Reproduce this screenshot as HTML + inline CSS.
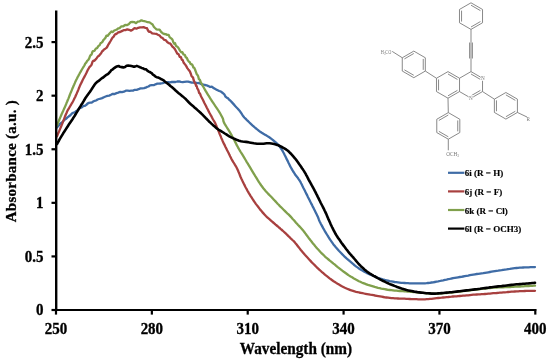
<!DOCTYPE html>
<html><head><meta charset="utf-8"><style>
html,body{margin:0;padding:0;background:#fff;}
body{width:550px;height:362px;overflow:hidden;}
svg{display:block;will-change:transform;}
.ax{font-family:"Liberation Serif",serif;font-weight:bold;font-size:15px;fill:#000;stroke:#000;stroke-width:0.3px;}
.lg{font-family:"Liberation Serif",serif;font-weight:bold;font-size:9px;fill:#000;stroke:#000;stroke-width:0.15px;}
</style></head><body>
<svg width="550" height="362" viewBox="0 0 550 362">
<rect width="550" height="362" fill="#fff"/>
<g stroke="#747474" stroke-width="0.85" fill="none"><line x1="471.00" y1="2.80" x2="482.52" y2="9.45"/><line x1="482.52" y1="9.45" x2="482.52" y2="22.75"/><line x1="482.52" y1="22.75" x2="471.00" y2="29.40"/><line x1="471.00" y1="29.40" x2="459.48" y2="22.75"/><line x1="459.48" y1="22.75" x2="459.48" y2="9.45"/><line x1="459.48" y1="9.45" x2="471.00" y2="2.80"/><line x1="471.00" y1="5.19" x2="480.44" y2="10.65"/><line x1="480.44" y1="21.55" x2="471.00" y2="27.01"/><line x1="461.56" y1="21.55" x2="461.56" y2="10.65"/><line x1="448.00" y1="71.60" x2="459.52" y2="78.25"/><line x1="459.52" y1="78.25" x2="459.52" y2="91.55"/><line x1="459.52" y1="91.55" x2="448.00" y2="98.20"/><line x1="448.00" y1="98.20" x2="436.48" y2="91.55"/><line x1="436.48" y1="91.55" x2="436.48" y2="78.25"/><line x1="436.48" y1="78.25" x2="448.00" y2="71.60"/><line x1="448.00" y1="73.99" x2="457.44" y2="79.45"/><line x1="457.44" y1="90.35" x2="448.00" y2="95.81"/><line x1="438.56" y1="90.35" x2="438.56" y2="79.45"/><line x1="471.00" y1="71.60" x2="482.52" y2="78.25"/><line x1="482.52" y1="78.25" x2="482.52" y2="91.55"/><line x1="482.52" y1="91.55" x2="471.00" y2="98.20"/><line x1="471.00" y1="98.20" x2="459.48" y2="91.55"/><line x1="459.48" y1="78.25" x2="471.00" y2="71.60"/><line x1="471.00" y1="73.99" x2="480.44" y2="79.45"/><line x1="480.44" y1="90.35" x2="471.00" y2="95.81"/><line x1="413.80" y1="51.10" x2="425.32" y2="57.75"/><line x1="425.32" y1="57.75" x2="425.32" y2="71.05"/><line x1="425.32" y1="71.05" x2="413.80" y2="77.70"/><line x1="413.80" y1="77.70" x2="402.28" y2="71.05"/><line x1="402.28" y1="71.05" x2="402.28" y2="57.75"/><line x1="402.28" y1="57.75" x2="413.80" y2="51.10"/><line x1="423.24" y1="58.95" x2="423.24" y2="69.85"/><line x1="413.80" y1="75.31" x2="404.36" y2="69.85"/><line x1="404.36" y1="58.95" x2="413.80" y2="53.49"/><line x1="448.30" y1="112.60" x2="459.82" y2="119.25"/><line x1="459.82" y1="119.25" x2="459.82" y2="132.55"/><line x1="459.82" y1="132.55" x2="448.30" y2="139.20"/><line x1="448.30" y1="139.20" x2="436.78" y2="132.55"/><line x1="436.78" y1="132.55" x2="436.78" y2="119.25"/><line x1="436.78" y1="119.25" x2="448.30" y2="112.60"/><line x1="457.74" y1="120.45" x2="457.74" y2="131.35"/><line x1="448.30" y1="136.81" x2="438.86" y2="131.35"/><line x1="438.86" y1="120.45" x2="448.30" y2="114.99"/><line x1="505.90" y1="92.50" x2="517.42" y2="99.15"/><line x1="517.42" y1="99.15" x2="517.42" y2="112.45"/><line x1="517.42" y1="112.45" x2="505.90" y2="119.10"/><line x1="505.90" y1="119.10" x2="494.38" y2="112.45"/><line x1="494.38" y1="112.45" x2="494.38" y2="99.15"/><line x1="494.38" y1="99.15" x2="505.90" y2="92.50"/><line x1="505.90" y1="94.89" x2="515.34" y2="100.35"/><line x1="515.34" y1="111.25" x2="505.90" y2="116.71"/><line x1="496.46" y1="111.25" x2="496.46" y2="100.35"/><line x1="471.00" y1="29.40" x2="471.00" y2="42.50"/><line x1="469.60" y1="42.50" x2="469.60" y2="58.50"/><line x1="471.00" y1="42.50" x2="471.00" y2="58.50"/><line x1="472.40" y1="42.50" x2="472.40" y2="58.50"/><line x1="471.00" y1="58.50" x2="471.00" y2="71.60"/><line x1="425.32" y1="71.05" x2="436.48" y2="78.25"/><line x1="402.28" y1="57.75" x2="392.20" y2="51.40"/><line x1="448.00" y1="98.20" x2="448.30" y2="112.60"/><line x1="448.30" y1="139.20" x2="448.30" y2="150.30"/><line x1="482.52" y1="91.55" x2="494.38" y2="99.15"/><line x1="517.42" y1="112.45" x2="527.00" y2="117.00"/></g><g fill="#777" font-family="Liberation Serif" font-size="5.2"><text x="380.8" y="53.6" textLength="10.5" lengthAdjust="spacingAndGlyphs">H<tspan font-size="3.5" dy="1">3</tspan><tspan dy="-1">CO</tspan></text><text x="446.3" y="156.2">OCH<tspan font-size="3.5" dy="1">3</tspan></text><text x="481.1" y="80.1" stroke="#fff" stroke-width="1.4" paint-order="stroke">N</text><text x="468.9" y="100.4" stroke="#fff" stroke-width="1.4" paint-order="stroke">N</text><text x="526.6" y="121.2">R</text></g>
<path d="M57.0 127.5 L57.8 126.6 L59.0 125.3 L60.3 123.5 L61.5 122.9 L63.0 121.5 L64.5 119.8 L66.0 118.8 L67.5 117.4 L68.9 116.3 L70.4 115.2 L71.9 113.5 L73.3 112.6 L74.8 112.4 L76.2 111.0 L77.7 110.2 L79.2 108.3 L80.5 107.9 L81.9 107.3 L83.3 106.0 L84.7 105.9 L86.1 105.1 L87.5 103.6 L88.9 102.9 L90.3 102.7 L91.7 102.6 L93.2 101.5 L94.7 100.8 L96.0 100.5 L97.6 99.5 L99.0 99.0 L100.5 98.6 L102.1 98.1 L103.9 97.2 L105.6 96.5 L107.4 95.9 L109.2 95.6 L111.0 94.8 L112.8 93.8 L114.7 94.0 L116.5 93.1 L118.3 92.6 L120.2 91.8 L122.0 92.2 L123.9 91.7 L125.8 90.7 L127.7 90.6 L129.5 90.8 L131.2 90.6 L133.0 90.6 L134.8 89.8 L136.7 89.8 L138.6 89.2 L140.4 88.4 L142.2 88.3 L144.1 88.2 L145.6 87.7 L147.0 86.9 L148.5 86.5 L150.0 85.4 L151.9 85.1 L153.7 85.2 L155.5 84.3 L157.3 83.7 L159.1 83.7 L160.9 83.5 L162.7 83.1 L164.6 82.4 L166.4 82.1 L168.2 82.1 L170.0 82.3 L171.8 82.0 L173.6 81.9 L175.5 82.0 L177.3 81.5 L179.1 81.4 L180.9 81.9 L182.7 82.1 L184.5 81.8 L186.4 81.7 L188.2 81.7 L190.0 82.1 L191.8 82.7 L193.6 82.7 L195.4 82.7 L197.1 83.2 L199.1 83.0 L200.5 83.7 L202.0 84.5 L203.6 84.6 L205.1 85.0 L206.6 85.3 L208.4 86.1 L210.1 87.0 L211.8 86.6 L213.3 87.9 L214.9 88.7 L216.3 89.6 L217.7 90.2 L219.2 91.0 L220.6 91.4 L222.1 92.5 L223.2 93.4 L224.3 94.3 L225.4 96.5 L226.5 97.4 L228.0 98.3 L229.4 99.9 L230.9 101.2 L232.0 102.4 L233.1 103.6 L234.3 104.9 L235.4 106.2 L236.6 107.5 L237.8 108.7 L238.9 110.0 L240.0 111.3 L241.2 113.0 L242.2 114.7 L243.3 116.3 L244.3 117.5 L245.5 118.6 L246.6 119.8 L247.8 120.9 L248.9 122.0 L250.1 123.2 L251.3 124.3 L252.4 125.4 L253.9 126.7 L255.4 128.0 L256.9 129.2 L258.1 130.1 L259.3 131.1 L260.6 132.0 L261.8 132.8 L263.4 133.8 L265.0 134.7 L266.6 135.6 L268.1 136.6 L269.6 137.5 L271.1 138.6 L272.7 139.8 L274.2 141.1 L275.7 142.4 L277.0 143.6 L278.3 144.8 L279.5 146.3 L280.4 147.6 L281.4 149.1 L282.4 150.6 L283.3 152.3 L284.1 153.7 L284.8 155.2 L285.6 156.8 L286.3 158.4 L287.1 159.9 L287.9 161.4 L288.6 163.0 L289.4 164.5 L290.1 166.1 L290.9 167.5 L291.7 168.9 L292.4 170.2 L293.2 171.5 L294.0 172.7 L294.8 174.0 L295.7 175.3 L296.7 176.5 L297.7 177.7 L298.6 179.1 L299.6 180.5 L300.4 181.8 L301.1 183.2 L301.9 184.7 L302.6 186.3 L303.3 187.8 L304.1 189.3 L304.9 190.8 L305.6 192.3 L306.4 193.9 L307.2 195.4 L307.9 197.0 L308.7 198.5 L309.5 200.0 L310.2 201.5 L311.0 203.1 L311.8 204.6 L312.5 206.1 L313.3 207.6 L314.1 209.2 L314.9 210.8 L315.7 212.4 L316.5 214.0 L317.2 215.4 L317.8 216.7 L318.5 218.5 L318.9 219.7 L319.6 221.4 L320.2 222.6 L320.9 224.0 L321.7 225.4 L322.5 226.9 L323.3 228.4 L324.1 229.8 L325.0 231.4 L325.9 232.9 L326.9 234.5 L327.8 235.9 L328.7 237.4 L329.6 238.8 L330.5 240.2 L331.5 241.6 L332.4 242.9 L333.3 244.2 L334.4 245.6 L335.6 247.0 L336.7 248.2 L337.8 249.5 L338.9 250.8 L340.1 252.0 L341.3 253.2 L342.4 254.4 L343.5 255.5 L344.6 256.6 L345.7 257.6 L346.8 258.6 L348.0 259.6 L349.2 260.7 L350.4 261.7 L351.5 262.6 L352.7 263.6 L353.7 264.5 L355.0 265.6 L356.3 266.6 L357.8 267.6 L359.3 268.7 L361.0 269.8 L362.4 270.6 L363.9 271.5 L365.4 272.3 L366.9 273.1 L368.4 273.8 L370.2 274.6 L372.0 275.2 L373.6 275.9 L375.0 276.4 L376.4 277.2 L378.1 278.0 L379.4 278.4 L381.1 278.9 L382.8 279.4 L384.7 279.9 L386.4 280.3 L388.0 280.7 L389.7 281.1 L391.3 281.4 L393.0 281.7 L394.6 282.0 L396.3 282.2 L397.9 282.4 L399.6 282.6 L401.2 282.8 L402.9 282.9 L404.6 283.0 L406.3 283.1 L408.0 283.2 L409.6 283.3 L411.2 283.3 L413.0 283.3 L414.8 283.3 L416.5 283.3 L418.2 283.3 L419.8 283.3 L421.4 283.4 L423.1 283.4 L425.0 283.3 L426.5 283.2 L428.1 283.0 L429.8 282.8 L431.5 282.5 L433.2 282.3 L434.9 282.0 L436.6 281.7 L438.2 281.4 L439.9 281.0 L441.6 280.6 L443.2 280.3 L444.9 279.9 L446.6 279.6 L448.2 279.2 L449.8 278.9 L451.5 278.5 L453.1 278.2 L454.8 277.9 L456.5 277.6 L458.1 277.3 L459.8 277.0 L461.4 276.8 L463.1 276.5 L464.8 276.2 L466.5 275.9 L468.2 275.6 L469.9 275.2 L471.6 274.9 L473.3 274.6 L475.0 274.3 L476.7 274.0 L478.4 273.8 L480.0 273.6 L481.7 273.4 L483.3 273.2 L485.0 272.9 L486.7 272.6 L488.3 272.3 L489.9 272.0 L491.6 271.7 L493.2 271.4 L494.9 271.1 L496.6 270.8 L498.2 270.6 L499.9 270.3 L501.6 270.1 L503.2 269.8 L504.9 269.6 L506.6 269.4 L508.2 269.1 L509.8 268.9 L511.5 268.6 L513.1 268.4 L514.8 268.2 L516.5 268.0 L518.1 267.9 L519.8 267.7 L521.4 267.6 L523.1 267.5 L524.8 267.4 L526.6 267.3 L528.6 267.3 L530.5 267.2 L532.3 267.2 L533.9 267.1 L535.0 267.1" fill="none" stroke="#3F6CA6" stroke-width="2.3" stroke-linejoin="round" stroke-linecap="round"/>
<path d="M57.0 136.3 L57.4 135.3 L57.9 134.1 L58.6 132.6 L59.3 130.9 L60.0 129.1 L60.8 127.3 L61.5 125.5 L62.1 124.1 L62.7 122.5 L63.3 120.9 L64.0 119.2 L64.6 117.6 L65.2 116.0 L65.8 114.5 L66.4 113.2 L66.9 112.0 L67.8 110.1 L68.6 108.8 L69.3 107.7 L70.0 106.5 L70.8 105.1 L71.6 103.7 L72.5 102.3 L73.3 100.8 L73.9 99.6 L74.5 98.3 L75.2 97.0 L75.8 95.5 L76.5 94.0 L77.1 92.6 L77.8 91.0 L78.5 89.4 L79.1 87.7 L79.8 86.1 L80.5 84.6 L81.3 82.9 L82.1 81.4 L82.8 79.8 L83.6 78.3 L84.5 76.6 L85.2 75.3 L85.9 73.9 L86.6 72.5 L87.3 71.0 L88.0 69.6 L88.8 68.2 L89.5 67.0 L90.5 66.2 L91.5 64.8 L92.5 61.8 L93.4 60.6 L94.4 60.8 L95.6 59.4 L96.7 58.2 L97.8 56.5 L99.0 55.8 L100.0 54.6 L101.1 53.3 L102.2 51.2 L103.2 50.5 L104.0 49.4 L105.3 48.7 L106.5 47.8 L107.4 46.5 L108.5 44.3 L109.7 42.5 L110.9 40.5 L111.8 38.8 L112.7 37.4 L113.6 36.8 L114.5 35.1 L115.5 34.0 L116.4 34.0 L118.2 32.3 L120.0 32.0 L121.8 31.1 L123.6 30.2 L125.5 30.1 L127.3 29.3 L129.1 29.8 L130.9 30.6 L132.7 29.7 L134.5 28.2 L136.4 28.7 L138.2 27.8 L140.1 27.3 L142.0 27.4 L143.6 27.2 L145.4 27.8 L146.9 28.1 L148.0 30.5 L149.0 31.9 L150.2 31.6 L152.2 33.3 L154.5 33.7 L156.2 33.8 L157.9 34.7 L159.6 35.5 L161.1 37.4 L162.6 38.0 L164.1 39.9 L165.6 40.1 L167.2 42.0 L168.7 43.1 L169.9 43.3 L171.1 44.6 L172.3 46.5 L173.3 47.3 L174.4 48.5 L175.2 49.7 L176.3 51.7 L177.3 53.7 L178.5 54.1 L179.7 56.8 L180.9 57.2 L181.8 59.7 L182.7 60.1 L183.7 62.8 L184.5 63.8 L185.4 64.8 L186.4 66.4 L187.3 68.1 L188.3 69.4 L189.2 70.5 L190.0 71.7 L190.8 73.7 L191.5 76.0 L192.3 76.9 L193.0 77.4 L193.7 80.2 L194.3 81.6 L194.9 83.3 L195.5 83.5 L196.1 85.9 L196.7 86.1 L197.3 88.6 L197.9 89.3 L198.5 90.6 L199.1 93.1 L199.9 93.3 L200.7 95.5 L201.4 97.0 L202.2 98.5 L203.0 100.0 L203.7 101.5 L204.4 103.0 L205.2 104.5 L206.0 106.0 L206.7 107.5 L207.5 109.0 L208.3 110.6 L209.0 111.9 L209.7 113.3 L210.5 114.7 L211.3 116.1 L212.0 117.5 L212.7 118.8 L213.4 120.0 L214.2 121.3 L214.9 122.6 L215.6 124.1 L216.2 125.5 L216.8 127.0 L217.5 128.5 L218.1 130.1 L218.8 131.7 L219.4 133.3 L220.0 134.8 L220.7 136.3 L221.3 137.9 L222.0 139.4 L222.6 140.9 L223.3 142.4 L224.0 143.9 L224.8 145.4 L225.5 146.9 L226.3 148.5 L227.0 150.0 L227.8 151.5 L228.6 153.0 L229.3 154.6 L230.1 156.2 L230.9 157.7 L231.6 159.2 L232.4 160.6 L233.3 162.1 L234.2 163.5 L235.0 164.9 L235.9 166.3 L236.8 168.0 L237.4 169.3 L238.1 170.8 L238.7 172.3 L239.4 173.9 L240.0 175.5 L240.6 177.0 L241.3 178.5 L242.0 179.9 L242.6 181.3 L243.3 182.7 L244.0 184.1 L244.7 185.4 L245.3 186.7 L246.0 188.0 L246.8 189.4 L247.5 190.8 L248.3 192.1 L249.0 193.3 L249.8 194.6 L250.5 195.8 L251.4 197.2 L252.3 198.6 L253.2 200.0 L254.1 201.3 L255.0 202.6 L256.0 204.1 L257.0 205.4 L258.1 206.8 L259.3 208.4 L260.2 209.6 L261.3 210.8 L262.3 212.1 L263.5 213.4 L264.7 214.7 L265.9 216.0 L267.0 217.1 L268.2 218.2 L269.4 219.2 L270.7 220.3 L271.9 221.4 L273.2 222.5 L274.5 223.6 L275.6 224.6 L276.7 225.5 L277.9 226.5 L279.0 227.5 L280.2 228.5 L281.3 229.5 L282.5 230.5 L283.6 231.5 L284.8 232.6 L286.0 233.7 L287.2 234.9 L288.4 236.1 L289.6 237.2 L290.6 238.3 L291.6 239.2 L292.4 240.0 L293.8 241.2 L295.0 242.6 L295.7 243.5 L296.6 244.5 L297.5 245.7 L298.5 247.0 L299.6 248.4 L300.6 249.7 L301.7 251.0 L302.7 252.2 L303.8 253.5 L304.9 254.8 L306.0 256.0 L307.2 257.3 L308.3 258.5 L309.4 259.7 L310.5 260.9 L311.6 262.1 L312.7 263.2 L313.8 264.3 L314.9 265.4 L316.0 266.5 L317.1 267.6 L318.2 268.6 L319.5 269.8 L320.8 271.0 L322.0 272.1 L323.3 273.2 L324.6 274.3 L325.9 275.4 L327.2 276.4 L328.4 277.4 L329.6 278.4 L330.9 279.3 L332.2 280.2 L333.6 281.2 L334.9 282.0 L336.2 282.9 L337.6 283.8 L339.0 284.6 L340.5 285.5 L341.9 286.3 L343.3 287.0 L344.9 287.8 L346.5 288.5 L348.2 289.2 L349.8 289.8 L351.4 290.4 L353.0 290.9 L354.6 291.4 L356.1 291.8 L357.6 292.1 L359.2 292.5 L360.8 292.8 L362.6 293.2 L364.0 293.5 L365.5 293.8 L367.1 294.1 L368.7 294.4 L370.3 294.7 L371.9 294.9 L373.5 295.2 L375.0 295.5 L376.7 295.8 L378.4 296.1 L380.0 296.4 L381.7 296.7 L383.3 297.0 L384.9 297.3 L386.4 297.5 L388.1 297.7 L389.8 297.9 L391.4 298.1 L393.1 298.2 L394.7 298.3 L396.3 298.4 L398.0 298.5 L399.6 298.6 L401.3 298.6 L403.0 298.7 L404.6 298.7 L406.2 298.8 L408.0 298.9 L409.7 299.0 L411.4 299.1 L413.2 299.1 L415.0 299.2 L416.6 299.2 L418.2 299.3 L419.9 299.3 L421.6 299.4 L423.3 299.3 L425.0 299.3 L426.7 299.2 L428.3 299.1 L429.9 298.9 L431.6 298.8 L433.2 298.6 L434.9 298.4 L436.6 298.2 L438.2 298.0 L439.9 297.8 L441.6 297.7 L443.2 297.5 L444.9 297.3 L446.6 297.1 L448.2 297.0 L449.8 296.8 L451.5 296.7 L453.1 296.5 L454.8 296.4 L456.5 296.3 L458.1 296.1 L459.8 296.0 L461.4 295.9 L463.1 295.7 L464.8 295.6 L466.5 295.4 L468.2 295.3 L469.9 295.1 L471.6 294.9 L473.3 294.7 L475.0 294.6 L476.7 294.5 L478.4 294.4 L480.0 294.3 L481.7 294.2 L483.3 294.1 L485.0 294.0 L486.7 293.9 L488.3 293.7 L489.9 293.6 L491.6 293.4 L493.2 293.2 L494.9 293.1 L496.6 293.0 L498.2 292.8 L499.9 292.7 L501.6 292.6 L503.2 292.4 L504.9 292.3 L506.6 292.2 L508.2 292.0 L509.8 291.9 L511.5 291.7 L513.1 291.6 L514.8 291.5 L516.5 291.4 L518.1 291.3 L519.8 291.2 L521.4 291.1 L523.1 291.1 L524.8 291.0 L526.6 290.9 L528.6 290.9 L530.5 290.9 L532.3 290.8 L533.9 290.8 L535.0 290.8" fill="none" stroke="#A8403F" stroke-width="2.3" stroke-linejoin="round" stroke-linecap="round"/>
<path d="M57.0 125.5 L57.4 124.6 L57.8 123.4 L58.4 121.9 L59.1 120.3 L59.7 118.7 L60.4 117.1 L61.0 115.7 L61.6 114.3 L62.3 112.8 L63.0 111.3 L63.6 109.9 L64.2 108.5 L64.8 107.2 L65.5 105.6 L66.1 104.2 L66.6 102.9 L67.2 101.5 L67.8 100.0 L68.4 98.6 L69.0 97.1 L69.6 95.5 L70.2 93.9 L70.9 92.3 L71.6 90.6 L72.2 89.1 L72.9 87.6 L73.5 86.0 L74.2 84.5 L74.9 82.9 L75.5 81.4 L76.2 80.0 L77.0 78.5 L77.7 77.0 L78.5 75.6 L79.2 74.3 L79.9 72.9 L80.7 71.6 L81.6 70.0 L82.5 68.5 L83.5 66.9 L84.4 65.5 L85.3 63.5 L86.2 62.6 L87.2 60.9 L88.2 60.0 L89.1 58.7 L89.9 56.4 L90.8 54.8 L91.5 54.8 L92.2 52.4 L92.9 51.1 L94.4 50.9 L95.9 48.5 L97.1 48.1 L98.3 46.2 L99.7 45.1 L100.6 43.1 L101.5 42.7 L102.5 41.8 L103.5 39.9 L104.4 39.1 L105.5 37.8 L106.5 35.6 L107.6 35.9 L108.7 34.6 L110.0 33.0 L111.4 31.5 L112.8 32.1 L114.2 30.5 L115.6 30.0 L116.9 29.5 L118.2 28.4 L119.6 28.1 L121.4 26.3 L123.3 26.3 L125.1 25.0 L126.9 25.1 L128.7 24.2 L130.5 22.2 L132.3 22.0 L134.2 22.1 L136.0 23.2 L137.8 21.7 L139.7 21.3 L141.4 20.3 L142.9 20.9 L144.3 21.1 L145.8 21.5 L147.6 22.2 L149.6 22.4 L151.3 23.6 L152.6 24.5 L153.8 26.7 L155.0 28.0 L156.5 29.3 L158.0 29.6 L159.6 29.6 L161.1 31.9 L162.6 33.2 L164.1 34.0 L165.6 34.1 L167.2 34.9 L168.7 35.0 L169.6 37.1 L170.5 37.8 L171.5 38.6 L172.4 39.5 L173.3 42.2 L174.2 43.7 L175.1 43.3 L176.0 45.9 L176.9 46.4 L177.8 47.1 L178.9 48.7 L180.1 50.9 L181.3 52.4 L182.4 52.2 L183.5 54.5 L184.7 54.8 L185.8 57.3 L186.9 58.0 L187.8 60.2 L188.8 61.6 L189.7 62.0 L190.6 64.1 L191.5 64.1 L192.5 65.1 L193.4 67.5 L194.3 67.9 L195.0 69.5 L195.9 71.8 L196.8 74.3 L197.4 74.8 L198.1 76.0 L198.9 79.1 L199.8 79.7 L200.6 81.7 L201.3 83.1 L202.1 84.5 L202.8 85.9 L203.6 87.3 L204.4 88.7 L205.2 90.1 L206.1 91.7 L207.0 93.2 L208.0 94.8 L208.9 96.2 L209.8 97.7 L210.7 99.1 L211.6 100.5 L212.5 101.8 L213.4 103.1 L214.3 104.5 L215.2 105.9 L216.2 107.3 L217.1 108.6 L218.0 110.0 L218.9 111.4 L219.8 112.8 L220.6 114.2 L221.4 115.7 L222.1 117.0 L222.7 118.2 L223.2 119.7 L223.4 121.0 L224.0 122.6 L224.7 123.9 L225.6 125.4 L226.6 127.0 L227.6 128.6 L228.6 130.2 L229.5 131.7 L230.4 133.2 L231.4 134.8 L232.2 136.3 L233.1 137.8 L233.9 139.3 L234.7 140.9 L235.4 142.4 L236.2 143.9 L236.9 145.4 L237.7 146.8 L238.4 148.2 L239.2 149.5 L240.0 150.8 L240.7 152.0 L241.6 153.4 L242.4 154.7 L243.3 156.1 L244.2 157.6 L245.0 159.0 L245.9 160.5 L246.8 162.1 L247.8 163.6 L248.7 165.2 L249.6 166.7 L250.5 168.2 L251.5 169.8 L252.4 171.3 L253.3 172.8 L254.2 174.3 L255.1 175.9 L256.1 177.4 L257.0 178.9 L257.9 180.4 L258.8 181.8 L259.7 183.2 L260.6 184.5 L261.5 185.8 L262.4 187.0 L263.5 188.5 L264.6 189.8 L265.8 191.2 L267.0 192.5 L268.0 193.6 L269.0 194.6 L270.1 195.7 L271.2 196.8 L272.3 198.0 L273.3 199.1 L274.4 200.2 L275.5 201.4 L276.5 202.5 L277.6 203.7 L278.7 204.8 L279.9 206.1 L281.2 207.3 L282.4 208.5 L283.6 209.7 L284.8 210.9 L286.0 212.1 L287.2 213.3 L288.5 214.4 L289.7 215.6 L290.9 216.9 L291.9 218.0 L292.9 219.2 L294.0 220.3 L295.0 221.5 L296.0 222.7 L297.0 223.8 L298.1 225.0 L299.2 226.1 L300.3 227.3 L301.4 228.5 L302.7 230.0 L303.6 231.1 L304.5 232.3 L305.5 233.6 L306.5 235.0 L307.5 236.3 L308.5 237.7 L309.5 239.0 L310.5 240.3 L311.5 241.5 L312.4 242.7 L313.4 243.9 L314.4 245.1 L315.3 246.3 L316.3 247.4 L317.2 248.5 L318.2 249.6 L319.3 250.8 L320.4 252.0 L321.5 253.1 L322.6 254.2 L323.7 255.2 L324.8 256.3 L325.9 257.3 L327.2 258.4 L328.5 259.5 L329.8 260.6 L331.1 261.6 L332.3 262.6 L333.5 263.6 L334.9 264.7 L336.2 265.8 L337.4 266.8 L338.7 267.8 L340.0 268.8 L341.3 269.8 L342.6 270.8 L343.8 271.8 L345.2 272.8 L346.6 273.8 L347.9 274.7 L349.2 275.6 L350.6 276.5 L352.1 277.3 L353.5 278.2 L354.9 279.0 L356.3 279.8 L357.6 280.5 L358.9 281.2 L360.3 281.8 L361.7 282.5 L363.2 283.1 L364.8 283.7 L366.4 284.3 L368.0 284.9 L369.7 285.4 L371.4 285.9 L373.1 286.4 L374.7 286.9 L376.4 287.3 L378.0 287.8 L379.7 288.2 L381.3 288.6 L383.0 288.9 L384.7 289.2 L386.3 289.5 L388.0 289.8 L389.7 290.0 L391.3 290.2 L393.0 290.4 L394.7 290.6 L396.3 290.7 L398.0 290.8 L399.7 291.0 L401.3 291.1 L402.9 291.2 L404.5 291.3 L406.0 291.4 L407.6 291.6 L409.1 291.7 L410.6 291.8 L412.0 291.9 L413.7 292.0 L415.3 292.2 L416.9 292.3 L418.4 292.5 L420.0 292.6 L421.6 292.8 L423.2 292.9 L424.8 293.1 L426.4 293.3 L428.0 293.4 L429.6 293.5 L431.2 293.6 L432.7 293.7 L434.3 293.8 L436.0 293.8 L437.4 293.8 L438.9 293.7 L440.4 293.5 L441.9 293.4 L443.4 293.2 L445.0 293.1 L446.6 293.0 L448.3 292.8 L449.9 292.6 L451.6 292.5 L453.3 292.3 L455.0 292.1 L456.7 291.9 L458.3 291.7 L460.0 291.5 L461.7 291.3 L463.3 291.1 L465.0 290.9 L466.7 290.7 L468.3 290.5 L470.0 290.3 L471.7 290.1 L473.3 289.9 L475.0 289.7 L476.7 289.5 L478.3 289.3 L480.0 289.1 L481.7 288.9 L483.3 288.7 L485.0 288.5 L486.7 288.3 L488.3 288.2 L490.0 288.0 L491.7 287.9 L493.3 287.7 L495.0 287.6 L496.7 287.5 L498.3 287.4 L500.0 287.4 L501.7 287.3 L503.3 287.3 L505.0 287.2 L506.7 287.1 L508.3 287.0 L510.0 287.0 L511.7 286.9 L513.3 286.8 L515.0 286.7 L516.7 286.6 L518.3 286.5 L520.0 286.5 L521.7 286.4 L523.3 286.3 L525.0 286.2 L526.8 286.1 L528.7 286.0 L530.6 285.9 L532.4 285.8 L533.9 285.7 L535.0 285.6" fill="none" stroke="#80A04C" stroke-width="2.3" stroke-linejoin="round" stroke-linecap="round"/>
<path d="M57.0 144.0 L57.5 143.2 L58.1 142.0 L58.9 140.7 L59.7 139.2 L60.6 137.7 L61.5 136.2 L62.3 134.8 L63.2 133.3 L64.1 131.9 L65.0 130.6 L65.9 129.1 L66.8 127.7 L67.8 126.2 L68.7 124.8 L69.7 123.3 L70.8 121.7 L71.8 120.2 L72.8 118.7 L73.6 117.4 L74.4 116.2 L75.6 114.3 L76.4 112.9 L77.2 111.6 L78.1 110.1 L79.0 108.6 L79.9 107.1 L80.8 105.7 L81.7 104.2 L82.7 102.7 L83.5 101.4 L84.3 100.0 L85.1 98.6 L86.0 97.3 L86.8 96.1 L87.6 95.0 L88.5 93.8 L89.6 92.3 L90.3 91.2 L91.2 89.9 L92.1 88.5 L93.0 87.1 L93.9 85.7 L94.7 84.5 L95.5 83.5 L96.9 82.1 L98.0 81.3 L99.4 80.4 L100.5 79.3 L101.9 78.2 L103.2 77.5 L104.6 76.3 L105.9 75.2 L107.1 74.5 L108.2 73.9 L109.3 72.7 L110.3 71.6 L111.4 70.1 L112.8 69.3 L114.2 68.1 L115.6 67.1 L116.8 66.4 L118.6 66.0 L120.1 66.8 L121.8 67.1 L123.4 67.4 L125.0 67.0 L126.6 65.8 L128.2 65.6 L129.9 65.7 L131.4 66.1 L133.2 66.6 L134.9 66.6 L136.8 65.9 L138.6 66.6 L140.1 67.3 L141.6 67.9 L143.0 68.3 L144.4 69.1 L145.9 69.2 L147.3 70.7 L148.8 71.6 L150.3 72.3 L151.7 73.1 L153.0 74.7 L154.1 75.3 L155.5 76.6 L156.7 77.2 L158.1 77.5 L159.5 78.1 L160.9 79.0 L162.3 79.7 L163.7 80.4 L165.0 81.7 L166.4 82.7 L167.8 83.7 L169.1 84.8 L170.4 86.0 L171.8 87.1 L173.2 88.3 L174.6 89.5 L175.9 90.8 L177.3 92.0 L178.7 93.2 L180.1 94.3 L181.5 95.4 L182.7 96.4 L184.4 97.9 L186.0 99.3 L187.2 100.6 L188.5 102.0 L190.0 103.5 L191.1 104.5 L192.3 105.5 L193.6 106.6 L194.8 107.7 L196.1 108.8 L197.3 109.9 L198.6 111.1 L199.9 112.2 L201.1 113.3 L202.2 114.4 L203.4 115.6 L204.6 116.8 L205.6 117.9 L206.7 119.0 L207.8 120.1 L208.8 121.2 L209.9 122.2 L211.1 123.4 L212.2 124.4 L213.4 125.5 L214.7 126.6 L216.0 127.7 L217.2 128.7 L218.7 129.8 L220.3 130.7 L221.8 131.6 L223.3 132.5 L224.8 133.5 L226.3 134.4 L227.8 135.4 L229.3 136.3 L230.8 137.1 L232.4 137.9 L233.9 138.6 L235.4 139.3 L237.3 140.1 L239.1 140.7 L241.0 141.2 L242.6 141.5 L244.3 141.7 L246.0 141.9 L247.8 142.1 L249.3 142.4 L250.8 142.7 L252.4 143.0 L253.9 143.3 L255.4 143.5 L257.1 143.7 L258.8 143.8 L260.4 143.8 L262.0 143.8 L263.6 143.7 L265.1 143.5 L266.6 143.3 L268.1 143.2 L269.7 143.3 L271.3 143.5 L272.8 143.7 L274.2 144.0 L275.8 144.4 L277.3 144.9 L278.7 145.5 L280.2 146.2 L281.8 147.0 L283.3 147.8 L284.8 148.7 L286.4 149.7 L287.9 150.8 L289.0 151.8 L290.2 153.0 L291.3 154.2 L292.4 155.4 L293.7 156.9 L294.9 158.3 L296.2 159.9 L297.2 161.2 L298.1 162.5 L299.1 164.0 L300.2 165.5 L301.1 166.8 L302.0 168.2 L303.0 169.6 L304.0 171.1 L304.9 172.6 L305.7 173.9 L306.4 175.3 L307.2 176.7 L307.9 178.2 L308.6 179.6 L309.4 181.0 L310.2 182.4 L311.0 183.8 L311.7 185.2 L312.5 186.6 L313.3 188.0 L314.0 189.3 L314.8 190.9 L315.6 192.4 L316.3 193.9 L317.1 195.4 L317.8 196.9 L318.6 198.4 L319.3 199.9 L320.1 201.5 L320.8 203.0 L321.6 204.5 L322.4 206.0 L323.1 207.5 L323.9 208.9 L324.6 210.5 L325.4 212.1 L326.1 213.6 L326.8 215.2 L327.5 216.9 L328.2 218.6 L328.9 220.1 L329.5 221.5 L330.2 223.1 L330.7 224.3 L331.3 225.5 L332.0 227.0 L332.6 228.2 L333.3 229.6 L334.0 231.0 L334.8 232.4 L335.5 233.8 L336.3 235.1 L337.2 236.6 L338.1 237.9 L339.1 239.3 L340.0 240.6 L340.9 241.9 L341.8 243.2 L342.7 244.4 L343.6 245.6 L344.5 246.8 L345.4 248.0 L346.5 249.5 L347.7 250.9 L348.8 252.4 L350.0 253.8 L351.0 254.9 L352.0 256.1 L353.0 257.2 L354.0 258.4 L355.0 259.5 L355.9 260.6 L356.8 261.7 L357.7 262.8 L358.7 264.0 L359.9 265.2 L360.9 266.2 L362.0 267.2 L363.2 268.3 L364.4 269.4 L365.7 270.5 L366.9 271.5 L368.1 272.4 L369.5 273.4 L370.9 274.2 L372.2 275.0 L373.6 275.8 L375.0 276.5 L376.4 277.3 L377.8 278.1 L379.2 278.8 L380.5 279.6 L381.9 280.3 L383.3 281.0 L384.7 281.7 L386.1 282.4 L387.5 283.0 L388.8 283.6 L390.2 284.2 L391.6 284.7 L393.0 285.3 L394.4 285.9 L395.8 286.4 L397.2 287.0 L398.7 287.5 L400.1 288.0 L401.5 288.5 L403.2 289.0 L404.9 289.5 L406.5 290.0 L408.2 290.4 L410.0 290.8 L411.5 291.1 L413.1 291.4 L414.6 291.7 L416.2 291.9 L417.8 292.2 L419.3 292.4 L421.1 292.6 L422.9 292.8 L424.7 293.0 L426.4 293.2 L428.0 293.3 L429.8 293.4 L431.4 293.6 L433.1 293.6 L435.0 293.6 L436.5 293.5 L438.1 293.4 L439.8 293.3 L441.5 293.1 L443.2 293.0 L444.9 292.8 L446.5 292.6 L448.2 292.5 L449.8 292.3 L451.5 292.2 L453.1 292.0 L454.8 291.8 L456.5 291.6 L458.1 291.4 L459.8 291.2 L461.4 291.0 L463.1 290.8 L464.8 290.6 L466.5 290.4 L468.2 290.2 L469.9 290.0 L471.6 289.8 L473.3 289.6 L475.0 289.4 L476.7 289.2 L478.4 289.0 L480.0 288.8 L481.7 288.5 L483.3 288.3 L485.0 288.1 L486.7 287.9 L488.3 287.7 L489.9 287.4 L491.6 287.2 L493.2 287.0 L494.9 286.8 L496.6 286.6 L498.2 286.4 L499.9 286.2 L501.6 286.1 L503.2 285.9 L504.9 285.7 L506.6 285.5 L508.2 285.3 L509.8 285.1 L511.5 284.9 L513.1 284.7 L514.8 284.5 L516.5 284.3 L518.1 284.2 L519.8 284.1 L521.4 284.0 L523.1 283.8 L524.8 283.7 L526.6 283.5 L528.6 283.4 L530.5 283.2 L532.3 283.0 L533.9 282.9 L535.0 282.8" fill="none" stroke="#000" stroke-width="2.6" stroke-linejoin="round" stroke-linecap="round"/>
<line x1="56.2" y1="10.6" x2="56.2" y2="311" stroke="#000" stroke-width="2.4"/>
<line x1="55" y1="310" x2="536.3" y2="310" stroke="#000" stroke-width="2.2"/>
<line x1="51.5" y1="310.00" x2="56" y2="310.00" stroke="#000" stroke-width="2.2"/>
<text transform="translate(43.6,310.00) scale(1,1.06)" y="5.1" text-anchor="end" class="ax">0</text>
<line x1="51.5" y1="256.42" x2="56" y2="256.42" stroke="#000" stroke-width="2.2"/>
<text transform="translate(43.6,256.42) scale(1,1.06)" y="5.1" text-anchor="end" class="ax">0.5</text>
<line x1="51.5" y1="202.84" x2="56" y2="202.84" stroke="#000" stroke-width="2.2"/>
<text transform="translate(43.6,202.84) scale(1,1.06)" y="5.1" text-anchor="end" class="ax">1</text>
<line x1="51.5" y1="149.26" x2="56" y2="149.26" stroke="#000" stroke-width="2.2"/>
<text transform="translate(43.6,149.26) scale(1,1.06)" y="5.1" text-anchor="end" class="ax">1.5</text>
<line x1="51.5" y1="95.68" x2="56" y2="95.68" stroke="#000" stroke-width="2.2"/>
<text transform="translate(43.6,95.68) scale(1,1.06)" y="5.1" text-anchor="end" class="ax">2</text>
<line x1="51.5" y1="42.10" x2="56" y2="42.10" stroke="#000" stroke-width="2.2"/>
<text transform="translate(43.6,42.10) scale(1,1.06)" y="5.1" text-anchor="end" class="ax">2.5</text>
<line x1="56.00" y1="309" x2="56.00" y2="314.6" stroke="#000" stroke-width="2.2"/>
<text transform="translate(56.00,328.2) scale(1,1.05)" y="5.1" text-anchor="middle" class="ax">250</text>
<line x1="151.86" y1="309" x2="151.86" y2="314.6" stroke="#000" stroke-width="2.2"/>
<text transform="translate(151.86,328.2) scale(1,1.05)" y="5.1" text-anchor="middle" class="ax">280</text>
<line x1="247.72" y1="309" x2="247.72" y2="314.6" stroke="#000" stroke-width="2.2"/>
<text transform="translate(247.72,328.2) scale(1,1.05)" y="5.1" text-anchor="middle" class="ax">310</text>
<line x1="343.58" y1="309" x2="343.58" y2="314.6" stroke="#000" stroke-width="2.2"/>
<text transform="translate(343.58,328.2) scale(1,1.05)" y="5.1" text-anchor="middle" class="ax">340</text>
<line x1="439.44" y1="309" x2="439.44" y2="314.6" stroke="#000" stroke-width="2.2"/>
<text transform="translate(439.44,328.2) scale(1,1.05)" y="5.1" text-anchor="middle" class="ax">370</text>
<line x1="535.30" y1="309" x2="535.30" y2="314.6" stroke="#000" stroke-width="2.2"/>
<text transform="translate(535.30,328.2) scale(1,1.05)" y="5.1" text-anchor="middle" class="ax">400</text>
<text transform="translate(295.9,353.6) scale(1,1.04)" text-anchor="middle" class="ax" style="font-size:15.25px">Wavelength (nm)</text>
<text transform="translate(15.8,161.3) rotate(-90)" text-anchor="middle" class="ax" textLength="122" lengthAdjust="spacing">Absorbance (a.u. )</text>
<line x1="448" y1="172.8" x2="464.4" y2="172.8" stroke="#3F6CA6" stroke-width="2.2"/>
<text x="464.8" y="176.4" class="lg">6i (R = H)</text>
<line x1="448" y1="191.4" x2="464.4" y2="191.4" stroke="#A8403F" stroke-width="2.2"/>
<text x="464.8" y="195.0" class="lg">6j (R = F)</text>
<line x1="448" y1="210.0" x2="464.4" y2="210.0" stroke="#80A04C" stroke-width="2.2"/>
<text x="464.8" y="213.6" class="lg">6k (R = Cl)</text>
<line x1="448" y1="228.6" x2="464.4" y2="228.6" stroke="#000" stroke-width="2.2"/>
<text x="464.8" y="232.2" class="lg">6l (R = OCH3)</text>
</svg>
</body></html>
